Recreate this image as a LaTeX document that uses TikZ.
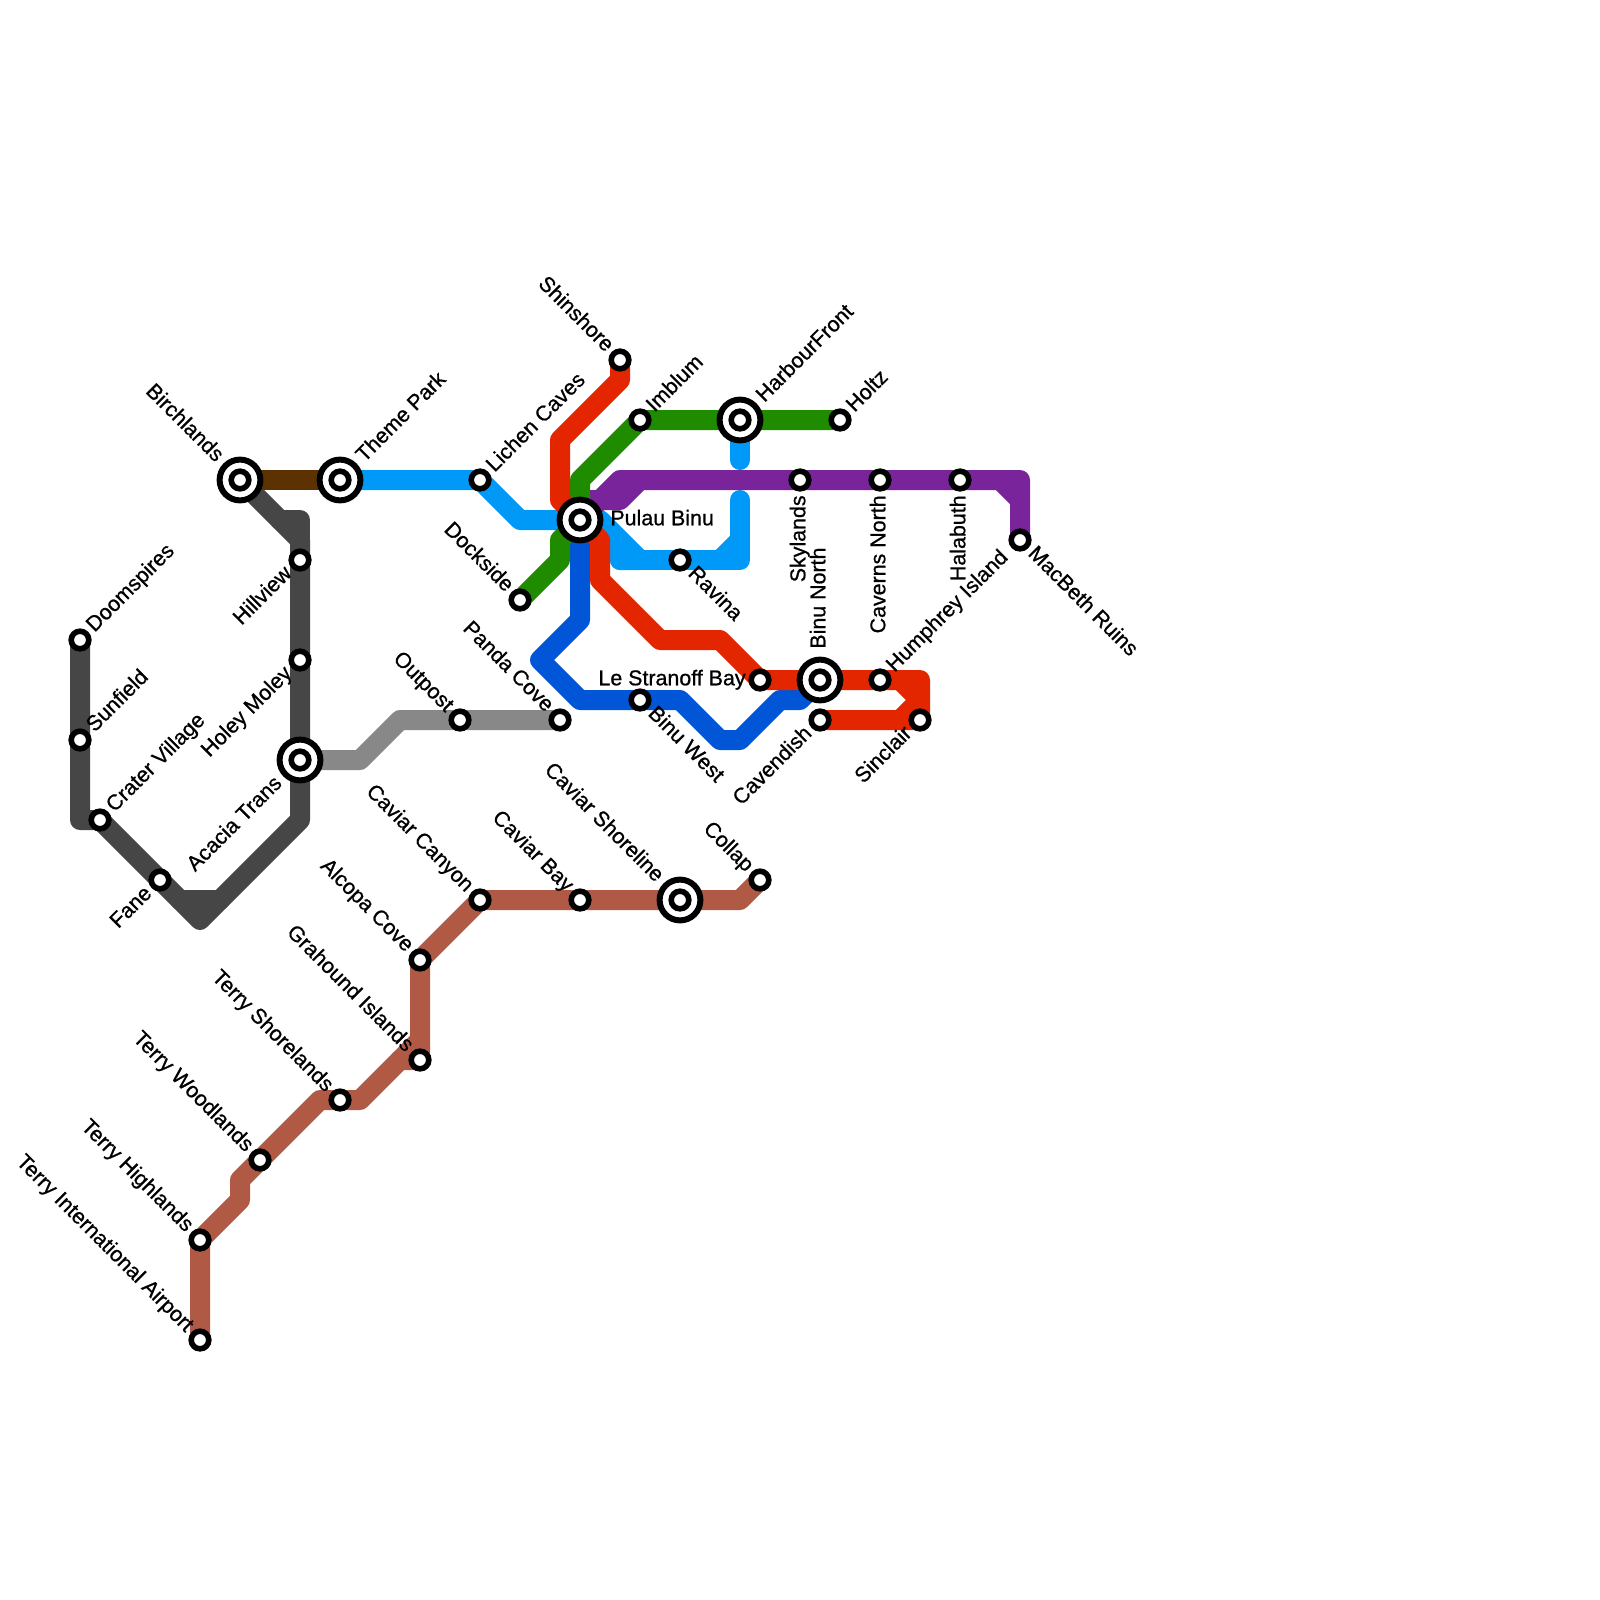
\documentclass[tikz,border=0pt]{standalone}
\usepackage{fontspec}
\setmainfont[FakeBold=0.8]{Liberation Sans}
\pgfdeclarelayer{lines}
\pgfsetlayers{lines,main}
\definecolor{cGrey}{HTML}{464646}
\definecolor{cBrown}{HTML}{5C3300}
\definecolor{cSky}{HTML}{0099F8}
\definecolor{cRed}{HTML}{E32600}
\definecolor{cGreen}{HTML}{1F8C00}
\definecolor{cPurple}{HTML}{79249B}
\definecolor{cBlue}{HTML}{0056D6}
\definecolor{cSilver}{HTML}{888888}
\definecolor{cRust}{HTML}{B05A46}
\tikzset{
  route/.style={line width=10pt,line cap=round,line join=round,draw=#1},
  stop/.style={circle,draw=black,fill=white,line width=2.8pt,minimum size=8.8pt,inner sep=0pt},
  hubout/.style={circle,draw=black,fill=white,line width=3pt,minimum size=20.4pt,inner sep=0pt},
  hubin/.style={circle,draw=black,fill=white,line width=2.8pt,minimum size=8.8pt,inner sep=0pt},
  lab/.style={font=\fontsize{10.7}{12}\selectfont,inner ysep=0pt,inner xsep=#1},
  lab/.default=7.5pt,
  ur/.style={lab=#1,rotate=45,anchor=mid west},
  ur/.default=7.5pt,
  ul/.style={lab=#1,rotate=-45,anchor=mid east},
  ul/.default=7.5pt,
  dr/.style={lab=#1,rotate=-45,anchor=mid west},
  dr/.default=7.5pt,
  dl/.style={lab=#1,rotate=45,anchor=mid east},
  dl/.default=7.5pt,
  up/.style={lab=#1,rotate=90,anchor=mid west},
  up/.default=7.5pt,
  dn/.style={lab=#1,rotate=90,anchor=mid east},
  dn/.default=7.5pt,
}
\newcommand{\hubat}[3]{\node[hubout] (#1) at (#2,#3) {};\node[hubin] (#1-in) at (#1.center) {};}
\begin{document}
\begin{tikzpicture}[x=0.5pt,y=-0.5pt]
\useasboundingbox (0,0) rectangle (1600,1600);
% stations
\foreach \n/\x/\y in {doom/80/640,sunf/80/740,crat/100/820,fane/160/880,hill/300/560,holey/300/660,lich/480/480,dock/520/600,shin/620/360,imbl/640/420,holtz/840/420,sky/800/480,cav/880/480,hala/960/480,macb/1020/540,rav/680/560,stran/760/680,hump/880/680,cave/820/720,sinc/920/720,bwest/640/700,panda/560/720,outp/460/720,ccan/480/900,cbay/580/900,coll/760/880,alco/420/960,grah/420/1060,tsho/340/1100,twoo/260/1160,thig/200/1240,tair/200/1340}
  {\node[stop] (\n) at (\x,\y) {};}
\hubat{birch}{240}{480}
\hubat{theme}{340}{480}
\hubat{acac}{300}{760}
\hubat{pulau}{580}{520}
\hubat{harb}{740}{420}
\hubat{bnor}{820}{680}
\hubat{cshor}{680}{900}
% routes
\begin{pgfonlayer}{lines}
\draw[route=cGrey] (doom.center) -- (80,820) -- (crat.center) -- (200,920) -- (300,820) -- (acac.center) -- (hill.center) -- (300,540) -- (birch.center);
\draw[route=cGrey] (300,540) -- (300,520) -- (280,520);
\draw[route=cGrey] (180,900) -- (220,900);
\draw[route=cBrown] (birch.center) -- (theme.center);
\draw[route=cSilver] (acac.center) -- (360,760) -- (400,720) -- (panda.center);
\draw[route=cSky] (theme.center) -- (lich.center) -- (520,520) -- (pulau.center) -- (600,520) -- (640,560) -- (620,560) -- (620,540);
\draw[route=cSky] (620,560) -- (740,560) -- (740,500);
\draw[route=cSky] (720,560) -- (740,540);
\draw[route=cSky] (harb.center) -- (740,460);
\draw[route=cBlue] (pulau.center) -- (580,620) -- (540,660) -- (580,700) -- (680,700) -- (720,740) -- (740,740) -- (780,700) -- (800,700) -- (bnor.center);
\draw[route=cPurple] (pulau.center) -- (620,480) -- (1020,480) -- (macb.center);
\draw[route=cPurple] (590,500) -- (620,500) -- (640,480);
\draw[route=cPurple] (1000,480) -- (1020,500);
\draw[route=cGreen] (dock.center) -- (560,560) -- (560,540) -- (pulau.center);
\draw[route=cGreen] (pulau.center) -- (580,480) -- (imbl.center) -- (holtz.center);
\draw[route=cRed] (shin.center) -- (620,380) -- (560,440) -- (560,500) -- (pulau.center) -- (600,540) -- (600,580) -- (660,640) -- (720,640) -- (stran.center) -- (920,680) -- (sinc.center) -- (cave.center);
\draw[route=cRed] (900,680) -- (920,700) -- (900,720);
\draw[route=cRust] (tair.center) -- (thig.center) -- (240,1200) -- (240,1180) -- (320,1100) -- (360,1100) -- (420,1040);
\draw[route=cRust] (400,1060) -- (grah.center) -- (alco.center) -- (ccan.center) -- (740,900) -- (coll.center);
\end{pgfonlayer}
% labels
\node[ur] (l1) at (doom) {Doomspires};
\node[ur] (l2) at (sunf) {Sunfield};
\node[ur] (l3) at (crat) {Crater Village};
\node[dl] (l4) at (fane) {Fane};
\node[dl] (l5) at (hill) {Hillview};
\node[dl] (l6) at (holey) {Holey Moley};
\node[dl=14.5pt] (l7) at (acac) {Acacia Trans};
\node[ul=14.5pt] (l8) at (birch) {Birchlands};
\node[ur=14.5pt] (l9) at (theme) {Theme Park};
\node[ur] (l10) at (lich) {Lichen Caves};
\node[ul] (l11) at (dock) {Dockside};
\node[ul] (l12) at (shin) {Shinshore};
\node[ur] (l13) at (imbl) {Imblum};
\node[ur=14.5pt] (l14) at (harb) {HarbourFront};
\node[ur] (l15) at (holtz) {Holtz};
\node[dn] (l16) at (sky) {Skylands};
\node[dn] (l17) at (cav) {Caverns North};
\node[dn] (l18) at (hala) {Halabuth};
\node[dr] (l19) at (macb) {MacBeth Ruins};
\node[dr] (l20) at (rav) {Ravina};
\node[up=15.5pt] (l21) at (bnor) {Binu North};
\node[lab=7pt,anchor=mid east] (l22) at (stran) {Le Stranoff Bay};
\node[ur] (l23) at (hump) {Humphrey Island};
\node[dl] (l24) at (cave) {Cavendish};
\node[dl] (l25) at (sinc) {Sinclair};
\node[dr] (l26) at (bwest) {Binu West};
\node[ul] (l27) at (panda) {Panda Cove};
\node[ul] (l28) at (outp) {Outpost};
\node[ul] (l29) at (ccan) {Caviar Canyon};
\node[ul] (l30) at (cbay) {Caviar Bay};
\node[ul=14.5pt] (l31) at (cshor) {Caviar Shoreline};
\node[ul] (l32) at (coll) {Collap};
\node[ul] (l33) at (alco) {Alcopa Cove};
\node[ul] (l34) at (grah) {Grahound Islands};
\node[ul] (l35) at (tsho) {Terry Shorelands};
\node[ul] (l36) at (twoo) {Terry Woodlands};
\node[ul] (l37) at (thig) {Terry Highlands};
\node[ul] (l38) at (tair) {Terry International Airport};
\node[lab=15pt,anchor=mid west] (l39) at (pulau) {Pulau Binu};
\end{tikzpicture}
\end{document}
